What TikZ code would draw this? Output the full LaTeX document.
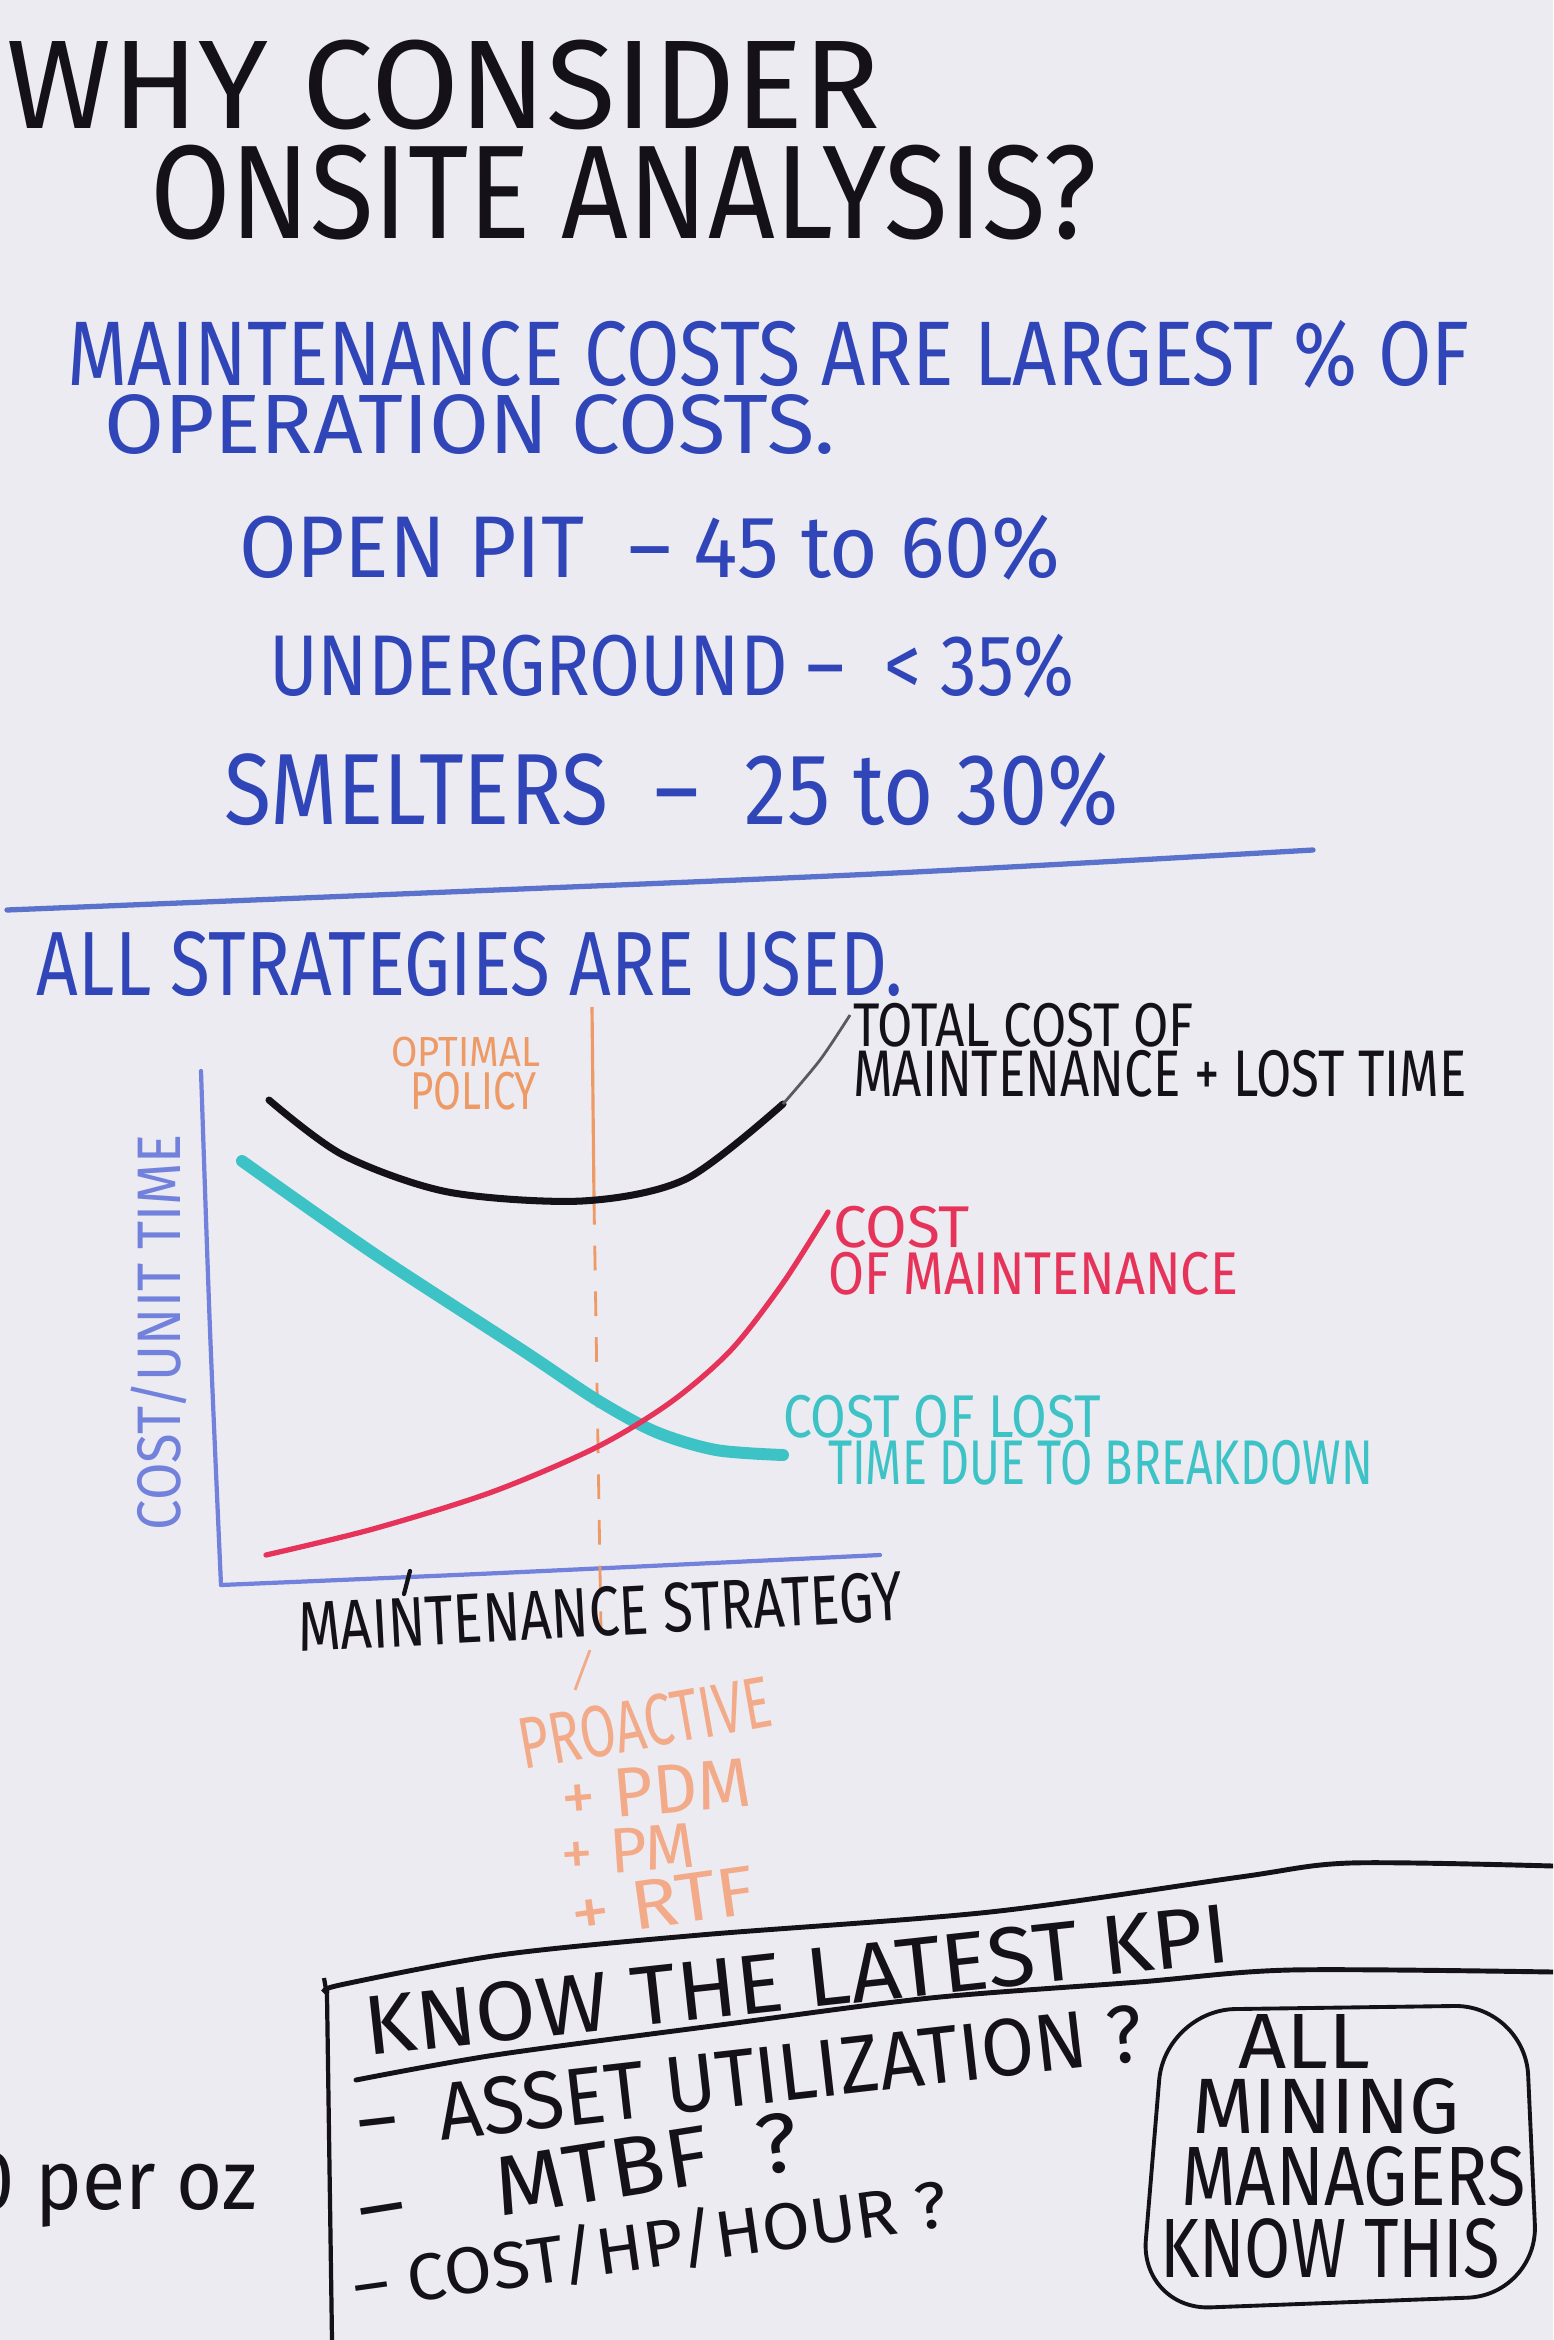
\documentclass[tikz,border=0pt]{standalone}
\usepackage{fontspec}
\setmainfont{Fira Sans}
\usepackage{graphicx}
\newlength\pxu
\setlength\pxu{0.01cm}
\newcommand\fb[3]{\resizebox*{#1\pxu}{#2\pxu}{#3}}
\definecolor{bgc}{HTML}{ECEBF1}
\definecolor{inkk}{HTML}{141218}
\definecolor{inkb}{HTML}{3045B8}
\definecolor{sepc}{HTML}{5A72CC}
\definecolor{axc}{HTML}{7282DC}
\definecolor{inkr}{HTML}{E6335A}
\definecolor{inkc}{HTML}{3DC2C6}
\definecolor{inko}{HTML}{EE9A66}
\definecolor{inkol}{HTML}{F2AA88}
\begin{document}
\begin{tikzpicture}[x=0.01cm,y=-0.01cm,
  txt/.style={inner sep=0pt,outer sep=0pt,anchor=north west},
  ctx/.style={inner sep=0pt,outer sep=0pt,anchor=center}]
\useasboundingbox (0,0) rectangle (1553,2340);
\clip (0,0) rectangle (1553,2340);
\fill[bgc] (0,0) rectangle (1553,2340);

% title
\node[txt,text=inkk] (t1) at (7,40) {\fb{873}{90}{WHY CONSIDER}};
\node[txt,text=inkk] (t2) at (150,145) {\fb{947}{95}{ONSITE ANALYSIS?}};

% blue block
\node[txt,text=inkb] (b1) at (67,320) {\fb{1403}{68}{MAINTENANCE COSTS ARE LARGEST \% OF}};
\node[txt,text=inkb] (b2) at (104,395) {\fb{731}{60}{OPERATION COSTS.}};
\node[txt,text=inkb] (b3) at (239,515) {\fb{821}{65}{OPEN PIT \ -- 45 to 60\%}};
\node[txt,text=inkb] (b4) at (269,634) {\fb{805}{64}{UNDERGROUND -- \ < 35\%}};
\node[txt,text=inkb] (b5) at (224,753) {\fb{895}{75}{SMELTERS \ -- \ 25 to 30\%}};
\draw[sepc,line width=1.5pt,line cap=round] plot[smooth] coordinates {(7,910) (448,892) (895,873) (1313,850)};
\node[txt,text=inkb] (b6) at (37,932) {\fb{866}{65}{ALL STRATEGIES ARE USED.}};

% chart axes
\draw[axc,line width=1.2pt,line cap=round] plot[smooth] coordinates {(201,1071) (210,1330) (221,1585)};
\draw[axc,line width=1.2pt,line cap=round] plot[smooth] coordinates {(221,1585) (500,1573) (880,1555)};
\draw[inkk,line width=1.2pt,line cap=round] (410,1571) -- (404,1594);

% optimal policy line
\draw[inko,line width=0.9pt] (592,1007) -- (594,1200);
\draw[inko,line width=0.8pt,dash pattern=on 7pt off 6pt] (594,1200) -- (601,1632);
\draw[inkol,line width=0.8pt] (590,1650) -- (575,1690);

% curves
\draw[inkc,line width=3.4pt,line cap=round] plot[smooth] coordinates {(242,1161) (373,1253) (522,1350) (597,1400) (656,1432) (716,1450) (783,1455)};
\draw[inkr,line width=1.5pt,line cap=round] plot[smooth] coordinates {(266,1555) (373,1529) (492,1492) (597,1447) (671,1402) (731,1350) (783,1283) (828,1212)};
\draw[inkk,line width=2pt,line cap=round] plot[smooth] coordinates {(269,1100) (343,1155) (448,1192) (582,1201) (686,1179) (783,1104)};
\draw[inkk!70,line width=0.8pt] plot[smooth] coordinates {(783,1104) (820,1060) (850,1015)};

% chart labels
\node[txt,text=inko] (o1) at (391,1037) {\fb{149}{30}{OPTIMAL}};
\node[txt,text=inko] (o2) at (410,1072) {\fb{127}{38}{POLICY}};
\node[txt,text=inkk] (c1) at (853,1003) {\fb{341}{44}{TOTAL COST OF}};
\node[txt,text=inkk] (c2) at (853,1050) {\fb{614}{47}{MAINTENANCE + LOST TIME}};
\node[txt,text=inkr] (r1) at (833,1206) {\fb{137}{42}{COST}};
\node[txt,text=inkr] (r2) at (828,1252) {\fb{410}{43}{OF MAINTENANCE}};
\node[txt,text=inkc] (y1) at (783,1395) {\fb{318}{43}{COST OF LOST}};
\node[txt,text=inkc] (y2) at (828,1440) {\fb{545}{45}{TIME DUE TO BREAKDOWN}};
\node[ctx,text=inkk,rotate=3] (xl) at (600,1612) {\fb{605}{50}{MAINTENANCE STRATEGY}};
\node[ctx,text=axc,rotate=90] (yl) at (159,1332) {\fb{396}{56}{COST/UNIT TIME}};

% proactive list
\node[ctx,text=inkol,rotate=10] (p1) at (645,1723) {\fb{255}{52}{PROACTIVE}};
\node[ctx,text=inkol,rotate=5] (p2) at (656,1790) {\fb{190}{48}{+ PDM}};
\node[ctx,text=inkol,rotate=4] (p3) at (628,1850) {\fb{135}{44}{+ PM}};
\node[ctx,text=inkol,rotate=8] (p4) at (663,1902) {\fb{185}{48}{+ RTF}};

% KPI frame
\draw[inkk,line width=1.4pt,line cap=round] plot[smooth] coordinates {(327,1992) (340,1985) (500,1955) (700,1935) (990,1912) (1240,1877) (1350,1863) (1553,1866)};
\draw[inkk,line width=1.2pt] (324,1978) -- (327,1995) -- (332,2340);
\draw[inkk,line width=1.4pt,line cap=round] plot[smooth] coordinates {(356,2080) (495,2055) (720,2025) (930,1998) (1139,1982) (1290,1970) (1553,1972)};
\node[ctx,text=inkk,rotate=6.2] (k0) at (797,1980) {\fb{870}{60}{KNOW THE LATEST KPI}};
\node[ctx,text=inkk,rotate=6.5] (k1) at (750,2077) {\fb{790}{58}{--\ \ ASSET UTILIZATION ?}};
\node[ctx,text=inkk,rotate=9] (k2) at (578,2175) {\fb{445}{60}{--\quad MTBF\ \ ?}};
\node[ctx,text=inkk,rotate=8] (k3) at (650,2245) {\fb{600}{60}{-- COST/HP/HOUR ?}};

% box
\draw[inkk,line width=1.1pt,rounded corners=20] (1165,2010) -- (1525,2005) -- (1538,2295) -- (1140,2310) -- cycle;
\node[txt,text=inkk] (m1) at (1238,2014) {\fb{132}{54}{ALL}};
\node[txt,text=inkk] (m2) at (1192,2078) {\fb{268}{56}{MINING}};
\node[txt,text=inkk] (m3) at (1181,2146) {\fb{345}{60}{MANAGERS}};
\node[txt,text=inkk] (m4) at (1160,2218) {\fb{340}{60}{KNOW THIS}};

% cut-off left text
\node[txt,text=inkk] (lo) at (-30,2152) {\fb{287}{75}{0 per oz}};
\end{tikzpicture}
\end{document}
